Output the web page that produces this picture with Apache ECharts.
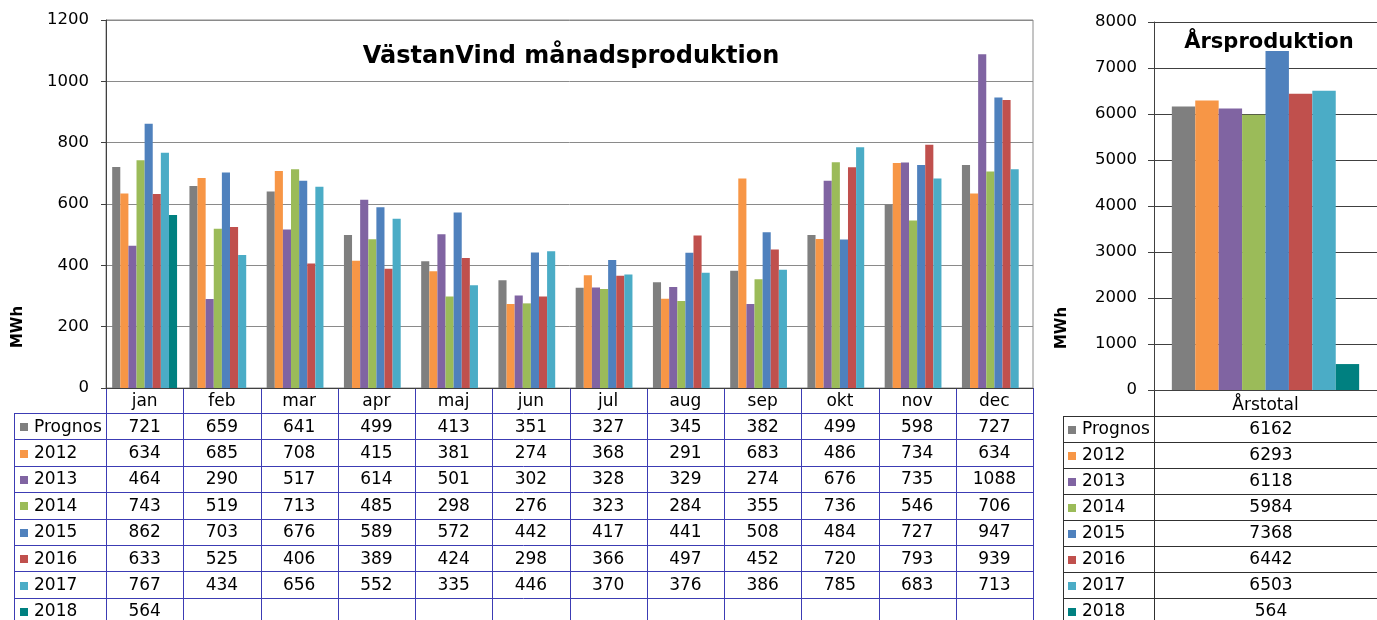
<!DOCTYPE html>
<html>
<head>
<meta charset="utf-8">
<script src="https://cdn.jsdelivr.net/npm/echarts@6/dist/echarts.min.js"></script>
<style>
html,body{margin:0;padding:0;background:#fff;}
#chart{width:1377px;height:620px;}
</style>
</head>
<body>
<div id="chart"></div>
<script>
// ---- data ----
const months = ['jan','feb','mar','apr','maj','jun','jul','aug','sep','okt','nov','dec'];
const seriesNames = ['Prognos','2012','2013','2014','2015','2016','2017','2018'];
const prognos = [721,659,641,499,413,351,327,345,382,499,598,727];
const y2012 = [634,685,708,415,381,274,368,291,683,486,734,634];
const y2013 = [464,290,517,614,501,302,328,329,274,676,735,1088];
const y2014 = [743,519,713,485,298,276,323,284,355,736,546,706];
const y2015 = [862,703,676,589,572,442,417,441,508,484,727,947];
const y2016 = [633,525,406,389,424,298,366,497,452,720,793,939];
const y2017 = [767,434,656,552,335,446,370,376,386,785,683,713];
const y2018 = [564,null,null,null,null,null,null,null,null,null,null,null];
const totalCategory = ['Årstotal'];
const totals = [6162,6293,6118,5984,7368,6442,6503,564];
const monthlyTicks = {min:0,max:1200,interval:200};
const yearlyTicks = {min:0,max:8000,interval:1000};

const colors = ['#7f7f7f','#f79646','#8064a2','#9bbb59','#4f81bd','#c0504d','#4bacc6','#008080'];
const monthly = [prognos,y2012,y2013,y2014,y2015,y2016,y2017,y2018];

// ---- layout ----
const FONT = '"DejaVu Sans", Verdana, sans-serif';
const L = {left:106, top:20, width:927, height:368};
const R = {left:1154, top:22, width:234, height:368};
const LT = {x0:14, labelX:34, headTop:388, rowTop:413, rowH:26.4, color:'#3c3cb4'};
const RT = {x0:1063, labelX:1082, headTop:390, rowTop:416, rowH:26.0, right:1377, color:'#303030'};
const TFS = 17;

const chart = echarts.init(document.getElementById('chart'), null, {renderer:'canvas'});

const series = [];
seriesNames.forEach((n,i)=>{
  series.push({name:n,type:'bar',xAxisIndex:0,yAxisIndex:0,data:monthly[i],
    barGap:'0%',barCategoryGap:'16%',itemStyle:{color:colors[i]},silent:true});
});
seriesNames.forEach((n,i)=>{
  series.push({name:n+' total',type:'bar',xAxisIndex:1,yAxisIndex:1,data:[totals[i]],
    barGap:'0%',barCategoryGap:'16%',itemStyle:{color:colors[i]},silent:true});
});

// ---- table graphics ----
const g = [];
function hline(x1,x2,y,c){g.push({type:'line',silent:true,shape:{x1:x1,y1:Math.round(y)+0.5,x2:x2,y2:Math.round(y)+0.5},style:{stroke:c,lineWidth:1}});}
function vline(x,y1,y2,c){g.push({type:'line',silent:true,shape:{x1:Math.round(x)+0.5,y1:y1,x2:Math.round(x)+0.5,y2:y2},style:{stroke:c,lineWidth:1}});}
function txt(x,y,s,align,opt){g.push({type:'text',silent:true,x:x,y:y,style:Object.assign({text:s,fill:'#000',font:TFS+'px '+FONT,align:align,verticalAlign:'middle'},opt||{})});}
function key(x,y,c){g.push({type:'rect',silent:true,shape:{x:x,y:Math.round(y-4),width:8,height:8},style:{fill:c}});}

// left table
const colW = L.width/months.length;
const colX = i => L.left + i*colW;
for(let r=0;r<=seriesNames.length;r++){
  hline(LT.x0, L.left+L.width, LT.rowTop + r*LT.rowH, LT.color);
}
vline(LT.x0, LT.rowTop, 620, LT.color);
for(let i=0;i<=months.length;i++){ vline(colX(i), LT.headTop, 620, LT.color); }
seriesNames.forEach((n,r)=>{
  const cy = LT.rowTop + r*LT.rowH + LT.rowH/2 + 1;
  key(20, cy, colors[r]);
  txt(LT.labelX, cy, n, 'left');
  monthly[r].forEach((v,i)=>{
    if(v!==null) txt(colX(i)+colW/2, cy, String(v), 'center');
  });
});

// right table
for(let r=0;r<=seriesNames.length;r++){
  hline(RT.x0, RT.right, RT.rowTop + r*RT.rowH, RT.color);
}
vline(RT.x0, RT.rowTop, 620, RT.color);
vline(R.left, RT.headTop, 620, RT.color);
seriesNames.forEach((n,r)=>{
  const cy = RT.rowTop + r*RT.rowH + RT.rowH/2 + 1;
  key(1068, cy, colors[r]);
  txt(RT.labelX, cy, n, 'left');
  txt(R.left+R.width/2, cy, String(totals[r]), 'center');
});

// titles and axis names
txt(571, 57, 'VästanVind månadsproduktion', 'center', {font:'bold 24px '+FONT});
txt(1269, 43, 'Årsproduktion', 'center', {font:'bold 21px '+FONT});
g.push({type:'text',silent:true,x:18,y:327,rotation:Math.PI/2,style:{text:'MWh',fill:'#000',font:'bold 15px '+FONT,align:'center',verticalAlign:'middle'}});
g.push({type:'text',silent:true,x:1062,y:328,rotation:Math.PI/2,style:{text:'MWh',fill:'#000',font:'bold 15px '+FONT,align:'center',verticalAlign:'middle'}});

const axisLabelStyle = {color:'#000',fontSize:16.5,fontFamily:FONT};
const plain = v => String(v);

chart.setOption({
  animation:false,
  backgroundColor:'#fff',
  grid:[
    Object.assign({show:true,borderColor:'#8a8a8a',borderWidth:1,backgroundColor:'transparent'},L),
    Object.assign({show:false},R)
  ],
  xAxis:[
    {type:'category',gridIndex:0,data:months,axisLine:{show:true,lineStyle:{color:'#404040'}},axisTick:{show:false},
     axisLabel:Object.assign({margin:5,interval:0},axisLabelStyle,{fontSize:TFS}),splitLine:{show:false}},
    {type:'category',gridIndex:1,data:totalCategory,axisLine:{show:true,lineStyle:{color:'#404040'}},axisTick:{show:false},
     axisLabel:Object.assign({margin:7,interval:0},axisLabelStyle,{fontSize:TFS}),splitLine:{show:false}}
  ],
  yAxis:[
    {type:'value',gridIndex:0,min:monthlyTicks.min,max:monthlyTicks.max,interval:monthlyTicks.interval,
     axisLine:{show:true,lineStyle:{color:'#404040'}},axisTick:{show:true,length:5,lineStyle:{color:'#404040'}},
     axisLabel:Object.assign({margin:17,formatter:plain},axisLabelStyle),splitLine:{show:true,lineStyle:{color:'#8a8a8a'}}},
    {type:'value',gridIndex:1,min:yearlyTicks.min,max:yearlyTicks.max,interval:yearlyTicks.interval,
     axisLine:{show:true,lineStyle:{color:'#404040'}},axisTick:{show:true,length:6,lineStyle:{color:'#404040'}},
     axisLabel:Object.assign({margin:17,formatter:plain},axisLabelStyle),splitLine:{show:true,lineStyle:{color:'#404040'}}}
  ],
  series:series,
  graphic:g
});
</script>
</body>
</html>
